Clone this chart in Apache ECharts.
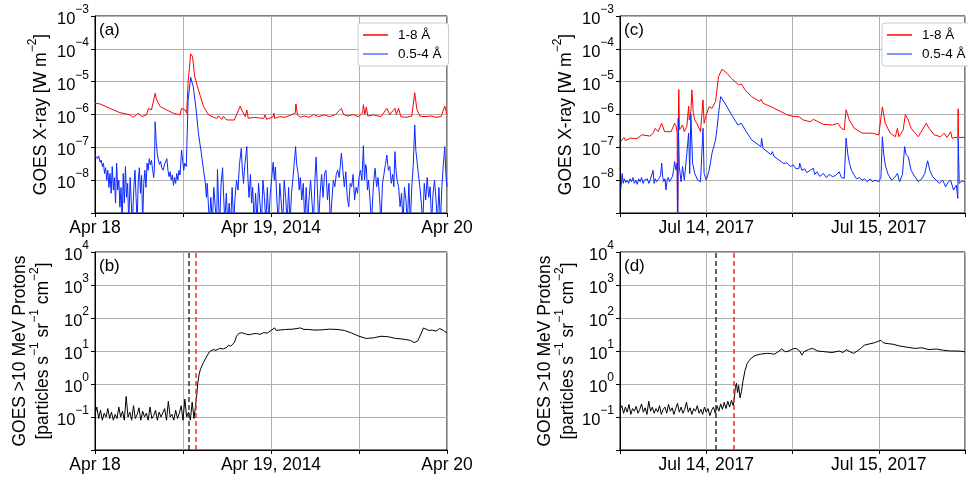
<!DOCTYPE html>
<html>
<head>
<meta charset="utf-8">
<script src="https://cdn.jsdelivr.net/npm/echarts@6/dist/echarts.min.js"></script>
<style>
html, body { margin: 0; padding: 0; background: #fff; }
#main { width: 968px; height: 480px; }
</style>
</head>
<body>
<div id="main"></div>
<script>
// [hours after start of window, flux] ; X-ray in W m^-2, protons in pfu
var aRed = [[0,2.2e-6],[0.7,2.1e-6],[2.0,1.54e-6],[3.4,1.14e-6],[4.8,9.7e-7],[5.2,8.2e-7],[5.9,1.09e-6],[6.4,8.6e-7],[7.0,9.7e-7],[7.3,1.54e-6],[7.7,1.37e-6],[7.9,1.22e-6],[8.2,4.4e-6],[8.4,2.8e-6],[8.9,1.73e-6],[9.8,1.37e-6],[10.0,1.54e-6],[10.7,1.09e-6],[11.6,9.7e-7],[11.8,1.54e-6],[12.3,1.37e-6],[12.5,1.09e-6],[12.7,1.0e-5],[13.05,7.0e-5],[13.3,5.8e-5],[13.6,1.42e-5],[14.1,5.6e-6],[14.8,1.73e-6],[15.5,9.7e-7],[16.2,8.2e-7],[16.6,7.6e-7],[16.8,9.0e-7],[17.3,7.1e-7],[17.5,8.8e-7],[18.0,6.8e-7],[19.0,6.8e-7],[19.8,1.8e-6],[20.0,1.37e-6],[20.5,8.6e-7],[20.7,1.37e-6],[20.9,7.6e-7],[21.6,8.2e-7],[23.0,7.6e-7],[23.2,9.7e-7],[23.4,7.1e-7],[24.3,8.6e-7],[24.4,1.09e-6],[24.5,7.6e-7],[25.2,8.6e-7],[25.9,8.2e-7],[27.3,1.09e-6],[27.4,2.1e-6],[27.6,9.7e-7],[28.0,8.2e-7],[28.5,9.0e-7],[29.2,8.2e-7],[29.8,1.0e-6],[30.5,8.6e-7],[31.2,9.7e-7],[32.0,8.6e-7],[32.8,1.0e-6],[33.6,1.54e-6],[33.9,1.0e-6],[34.5,9.0e-7],[35.2,1.0e-6],[35.9,8.6e-7],[36.5,1.1e-6],[36.6,2.0e-6],[36.8,1.0e-6],[37.0,1.7e-6],[37.2,9.0e-7],[38.0,9.7e-7],[39.0,8.6e-7],[39.8,1.54e-6],[40.2,1.0e-6],[40.9,1.54e-6],[41.1,1.0e-6],[41.4,1.54e-6],[41.7,8.6e-7],[42.5,8.2e-7],[43.2,9.0e-7],[43.6,4.6e-6],[43.9,1.4e-6],[44.3,9.0e-7],[45.0,8.6e-7],[45.8,9.0e-7],[46.5,8.2e-7],[47.2,8.6e-7],[47.7,1.8e-6],[48.0,1.0e-6]];
var aBlue = [[0,5.8e-8],[0.2,6.2e-8],[0.35,4.5e-8],[0.5,5.5e-8],[0.7,3.5e-8],[0.85,4.1e-8],[1.0,2.6e-8],[1.15,3.3e-8],[1.3,1.6e-8],[1.45,2.4e-8],[1.6,1.0e-8],[1.75,2.0e-8],[1.9,6e-9],[2.05,1.6e-8],[2.2,4e-9],[2.35,2.6e-8],[2.5,5e-9],[2.65,1.2e-8],[2.8,2e-9],[2.95,3.3e-8],[3.1,5e-9],[3.25,1.0e-8],[3.4,1.5e-9],[3.55,6e-9],[3.7,5e-10],[3.85,1.6e-8],[4.0,2e-9],[4.15,2.6e-8],[4.3,3e-9],[4.45,8e-9],[4.6,5e-10],[4.8,1.2e-8],[4.95,2e-9],[5.1,5e-10],[5.3,6e-9],[5.45,2e-8],[5.6,3e-9],[5.75,5e-10],[5.9,1e-8],[6.05,2.4e-8],[6.2,4e-9],[6.35,1.4e-8],[6.5,5e-10],[6.65,8e-9],[6.8,2e-8],[6.95,6e-9],[7.1,3.3e-8],[7.25,2e-8],[7.4,4.5e-8],[7.55,2.9e-8],[7.7,4.0e-8],[7.85,2.2e-8],[8.0,1.2e-8],[8.1,2e-8],[8.2,6.0e-7],[8.35,1.5e-7],[8.5,6e-8],[8.65,4.1e-8],[8.8,3.0e-8],[8.95,3.7e-8],[9.1,2.4e-8],[9.3,2.0e-8],[9.45,2.9e-8],[9.6,3.3e-8],[9.8,4.5e-8],[9.95,2.0e-8],[10.1,1.28e-8],[10.25,1.8e-8],[10.4,1.0e-8],[10.55,1.44e-8],[10.7,7e-9],[10.85,1.2e-8],[11.0,8e-9],[11.15,1.6e-8],[11.3,1.0e-8],[11.45,2.0e-8],[11.6,1.44e-8],[11.8,8.3e-8],[11.95,4.1e-8],[12.1,2.0e-8],[12.25,3.3e-8],[12.45,2.6e-8],[12.7,2.8e-6],[13.05,1.35e-5],[13.4,7.0e-6],[13.8,1.37e-6],[14.1,2.7e-7],[14.5,6.6e-8],[14.8,2e-8],[15.0,1.0e-8],[15.2,3e-9],[15.3,8e-9],[15.45,2e-9],[15.6,5e-10],[15.8,3e-9],[16.0,5e-10],[16.2,6e-9],[16.4,1.5e-9],[16.6,5e-10],[16.7,2.1e-8],[16.85,2e-9],[17.0,5e-10],[17.2,8e-9],[17.4,2.4e-8],[17.55,3e-9],[17.7,5e-10],[17.9,4e-9],[18.1,5e-10],[18.3,2e-9],[18.5,5e-10],[18.7,6e-9],[18.9,5e-10],[19.1,3e-9],[19.3,1e-8],[19.5,5e-9],[19.7,3e-8],[19.95,9.3e-8],[20.1,2e-8],[20.25,8e-9],[20.4,2.5e-8],[20.7,1.05e-7],[20.85,1.2e-8],[21.0,3e-9],[21.2,1.5e-8],[21.35,2e-9],[21.5,6e-9],[21.7,5e-10],[21.9,4e-9],[22.1,5e-10],[22.3,8e-9],[22.5,2e-9],[22.7,5e-10],[22.9,1e-8],[23.1,3e-9],[23.3,5e-10],[23.5,6e-9],[23.7,5e-10],[23.9,4e-9],[24.1,1.2e-8],[24.3,3.5e-8],[24.45,1e-8],[24.6,2.5e-8],[24.8,2.5e-9],[25.0,5e-10],[25.2,8e-9],[25.4,2e-9],[25.6,5e-10],[25.8,1e-8],[26.0,3e-9],[26.2,5e-10],[26.4,6e-9],[26.6,5e-10],[26.8,4e-9],[27.0,1.2e-8],[27.2,4e-8],[27.35,1.05e-7],[27.5,3e-8],[27.7,1.6e-8],[27.85,5e-9],[28.0,1.2e-8],[28.2,2.5e-9],[28.4,8e-9],[28.6,5e-10],[28.8,6e-9],[29.0,5e-10],[29.2,3e-9],[29.4,1e-8],[29.6,2e-9],[29.8,5e-10],[30.0,1.2e-8],[30.15,5e-8],[30.3,8e-9],[30.5,5e-10],[30.7,4e-9],[30.9,1.5e-8],[31.1,3e-9],[31.3,1.6e-8],[31.5,2e-8],[31.7,2.5e-9],[31.9,8e-9],[32.1,5e-10],[32.3,2.5e-9],[32.5,1e-8],[32.7,6.3e-9],[32.9,1.5e-8],[33.1,2e-8],[33.3,1.2e-8],[33.6,6.6e-8],[33.8,2e-8],[34.0,6.3e-9],[34.2,1.8e-8],[34.4,3e-9],[34.6,1.56e-9],[34.8,8e-9],[35.0,6.3e-9],[35.2,1.5e-8],[35.4,2.5e-9],[35.6,6e-9],[35.8,4e-9],[36.0,1.2e-8],[36.2,2e-8],[36.4,1.0e-8],[36.6,1.12e-7],[36.75,1.0e-8],[36.9,3e-8],[37.0,2.6e-8],[37.15,5e-9],[37.3,1e-8],[37.5,2.5e-9],[37.7,5e-10],[37.95,6.3e-9],[38.1,1.5e-8],[38.2,2.3e-8],[38.4,6.3e-9],[38.6,1.2e-8],[38.8,3e-9],[39.0,5e-10],[39.2,8e-9],[39.4,1.5e-8],[39.6,3e-8],[39.8,5.8e-8],[40.0,2e-8],[40.2,2.6e-8],[40.4,8e-9],[40.6,1.5e-8],[40.75,6.3e-9],[40.9,7.4e-8],[41.05,2e-8],[41.2,1e-8],[41.4,6.3e-9],[41.6,1.56e-9],[41.8,4e-9],[42.0,5e-10],[42.2,6e-9],[42.4,2.5e-9],[42.6,5e-10],[42.8,8e-9],[43.0,5e-10],[43.2,6.3e-9],[43.4,3e-8],[43.6,4.8e-7],[43.75,8e-8],[43.9,4.1e-8],[44.1,1.5e-8],[44.3,6.3e-9],[44.5,2e-9],[44.7,5e-10],[44.9,8e-9],[45.1,2.5e-9],[45.3,1.2e-8],[45.5,3e-9],[45.7,6.3e-9],[45.9,5e-10],[46.1,4e-9],[46.3,1e-8],[46.5,2.5e-9],[46.7,5e-10],[46.9,6e-9],[47.1,5e-10],[47.3,6.3e-9],[47.5,3e-8],[47.7,1.05e-7],[47.85,1.5e-8],[48.0,6.3e-9]];
var bProtons = [[0,0.12],[0.25,0.2],[0.5,0.09],[0.75,0.16],[1,0.08],[1.25,0.13],[1.5,0.1],[1.75,0.18],[2,0.09],[2.25,0.14],[2.5,0.08],[2.75,0.12],[3,0.09],[3.25,0.2],[3.5,0.1],[3.75,0.15],[4,0.08],[4.25,0.42],[4.5,0.1],[4.75,0.14],[5,0.08],[5.25,0.22],[5.5,0.09],[5.75,0.12],[6,0.19],[6.25,0.08],[6.5,0.15],[6.75,0.1],[7,0.13],[7.25,0.08],[7.5,0.2],[7.75,0.09],[8,0.11],[8.25,0.16],[8.5,0.08],[8.75,0.14],[9,0.1],[9.25,0.09],[9.5,0.18],[9.75,0.08],[10,0.3],[10.25,0.1],[10.5,0.12],[10.75,0.08],[11,0.16],[11.25,0.09],[11.5,0.13],[11.75,0.22],[12,0.08],[12.25,0.35],[12.5,0.1],[12.75,0.14],[13,0.08],[13.25,0.28],[13.5,0.09],[13.75,0.1],[13.85,0.4],[14.0,1.0],[14.2,2.0],[14.4,2.9],[14.6,3.2],[14.8,4.5],[15.2,6.6],[15.6,9.5],[16.1,11],[16.5,10.5],[17,12],[17.5,11.5],[18,13],[18.2,15],[18.5,14],[19,18],[19.3,28],[19.6,34],[20,36],[20.5,33],[21,31],[21.5,33],[22,34],[22.5,32],[23,36],[23.5,35],[24,42],[24.5,50],[24.7,42],[25.5,44],[26,45],[27,46],[28,50],[28.5,45],[29,45],[30,43],[31,44],[32,46],[33,45],[34,42],[35,35],[36,28],[37,24],[38,25],[39,28],[40,27],[41,24],[42,23],[43,21],[43.5,18],[44,20],[44.5,35],[44.8,50],[45.5,42],[46,43],[46.5,40],[47,48],[47.5,42],[48,35]];
var cRed = [[0.1,1.5e-7],[0.55,2.0e-7],[0.77,1.6e-7],[1.45,1.9e-7],[2.36,1.85e-7],[3.05,2.4e-7],[3.27,2.1e-7],[4.2,2.2e-7],[4.6,2.7e-7],[4.9,3.8e-7],[5.3,3.0e-7],[5.8,5.4e-7],[6.2,3.0e-7],[7.1,3.0e-7],[7.6,5.4e-7],[7.8,4.5e-7],[7.95,2.8e-7],[8.02,1e-10],[8.1,3.4e-7],[8.18,5.8e-6],[8.27,3.4e-7],[8.7,4.8e-7],[8.95,3.0e-7],[9.3,4.3e-7],[9.55,1.8e-6],[9.64,6.8e-7],[9.86,1.22e-6],[10.0,5.6e-6],[10.2,1.09e-6],[10.4,6.8e-7],[10.8,4.8e-7],[11.2,3.0e-7],[11.55,2.8e-6],[11.7,5.4e-7],[12.0,9.7e-7],[12.4,1.73e-6],[12.8,1.54e-6],[13.3,2.5e-6],[13.7,1.42e-5],[14.2,2.4e-5],[14.9,1.8e-5],[15.5,1.26e-5],[16.5,8.0e-6],[16.9,8.5e-6],[17.4,5.6e-6],[18.3,3.5e-6],[19.4,2.5e-6],[19.6,2.9e-6],[19.9,2.2e-6],[21.0,1.73e-6],[21.2,1.8e-6],[21.45,1.54e-6],[22.4,1.22e-6],[23.3,9.7e-7],[24.2,8.6e-7],[24.9,8.6e-7],[25.5,6.8e-7],[26.45,6.0e-7],[26.9,7.1e-7],[27.4,6.3e-7],[28.3,5.0e-7],[29.6,4.8e-7],[30.3,5.4e-7],[30.8,3.8e-7],[31.2,3.4e-7],[31.45,1.4e-6],[31.9,6.8e-7],[32.6,3.8e-7],[33.7,2.7e-7],[35.1,2.7e-7],[36.0,2.4e-7],[36.2,2.5e-7],[36.5,1.7e-6],[36.9,5.4e-7],[37.6,2.7e-7],[38.3,2.1e-7],[38.6,3.8e-7],[38.8,2.1e-7],[39.4,3.4e-7],[39.7,1.0e-6],[40.1,6.8e-7],[40.5,3.8e-7],[41.5,2.1e-7],[42.6,5.4e-7],[43.0,3.8e-7],[43.7,2.4e-7],[44.6,2.1e-7],[45.1,2.7e-7],[45.5,2.0e-7],[46.0,3.0e-7],[46.2,1.9e-7],[46.6,2.0e-7],[47.0,2.0e-7],[47.05,1.5e-6],[47.1,2.0e-7],[48,2.0e-7]];
var cBlue = [[0.1,5.0e-9],[0.3,1.6e-8],[0.45,8e-9],[0.6,1.1e-8],[0.8,8.5e-9],[1.0,1.0e-8],[1.2,8e-9],[1.4,1.1e-8],[1.6,9e-9],[1.8,1.2e-8],[2.0,8e-9],[2.2,1.0e-8],[2.4,7.5e-9],[2.6,1.1e-8],[2.8,9e-9],[3.0,1.2e-8],[3.2,8e-9],[3.4,1.0e-8],[3.6,9e-9],[3.8,1.1e-8],[4.0,8e-9],[4.2,1.0e-8],[4.4,9e-9],[4.6,2.0e-8],[4.75,8e-9],[4.9,1.1e-8],[5.1,9e-9],[5.3,1.0e-8],[5.5,1.2e-8],[5.65,1.4e-8],[5.8,3.3e-8],[5.95,1.2e-8],[6.1,9.0e-9],[6.25,1.1e-8],[6.4,5.0e-9],[6.55,1.0e-8],[6.7,1.2e-8],[6.9,9e-9],[7.1,1.0e-8],[7.3,1.3e-8],[7.45,2e-8],[7.6,3.7e-8],[7.8,2.0e-8],[7.95,3.3e-8],[8.02,1e-10],[8.1,7.6e-7],[8.25,2.6e-8],[8.5,9.0e-9],[8.7,2.6e-8],[8.95,1.0e-8],[9.3,6.6e-8],[9.55,2.7e-7],[9.7,1.6e-8],[9.86,1.0e-6],[10.1,3.3e-8],[10.4,1.6e-8],[10.8,1.0e-8],[11.2,9.0e-9],[11.55,3.8e-7],[11.7,1.6e-8],[12.0,1.0e-8],[12.4,2.0e-8],[12.8,6.6e-8],[13.3,1.7e-7],[13.5,3.8e-7],[13.7,1.0e-6],[14.0,3.5e-6],[14.6,2.2e-6],[15.5,1.0e-6],[16.4,4.8e-7],[16.9,5.4e-7],[17.4,3.4e-7],[18.3,1.7e-7],[19.6,1.05e-7],[19.7,1.9e-7],[19.9,9.3e-8],[21.0,6.0e-8],[21.2,7.4e-8],[21.45,5.2e-8],[22.4,3.7e-8],[22.8,3.2e-8],[23.2,3.4e-8],[23.7,2.6e-8],[24.1,2.9e-8],[24.5,2.2e-8],[24.9,2.3e-8],[25.0,3.3e-8],[25.3,2.0e-8],[25.7,2.2e-8],[26.0,1.7e-8],[26.45,2.0e-8],[26.9,2.3e-8],[27.1,1.5e-8],[27.4,1.8e-8],[27.8,1.3e-8],[28.3,1.6e-8],[28.7,1.2e-8],[29.1,1.5e-8],[29.6,1.28e-8],[30.0,1.4e-8],[30.5,1.8e-8],[30.8,1.2e-8],[31.2,1.14e-8],[31.45,1.9e-7],[31.7,6e-8],[31.9,3.5e-8],[32.2,2e-8],[32.6,1.4e-8],[32.9,1.1e-8],[33.3,1.2e-8],[33.7,1.0e-8],[34.0,1.1e-8],[34.4,9e-9],[34.8,1.1e-8],[35.1,9.0e-9],[35.5,1.0e-8],[36.0,9.0e-9],[36.3,1.2e-8],[36.5,2.1e-7],[36.7,6e-8],[36.95,2.6e-8],[37.3,1.5e-8],[37.8,1.0e-8],[38.2,1.2e-8],[38.6,1.6e-8],[38.9,9.0e-9],[39.3,1.5e-8],[39.6,1.05e-7],[39.8,6e-8],[40.1,5.2e-8],[40.5,2.0e-8],[40.9,1.4e-8],[41.5,9.0e-9],[42.0,1.1e-8],[42.4,1.6e-8],[42.8,3.9e-8],[43.1,2e-8],[43.5,1.28e-8],[44.0,1.0e-8],[44.4,8.0e-9],[44.9,1.0e-8],[45.3,6.3e-9],[45.7,9e-9],[46.0,1.0e-8],[46.4,5.0e-9],[46.8,7.0e-9],[47.0,2.8e-9],[47.05,1.9e-7],[47.2,8.0e-9],[47.6,9.5e-9],[48,9.0e-9]];
var dProtons = [[0,0.17],[0.25,0.22],[0.5,0.13],[0.75,0.2],[1,0.14],[1.25,0.24],[1.5,0.12],[1.75,0.18],[2,0.15],[2.25,0.21],[2.5,0.13],[2.75,0.17],[3,0.25],[3.25,0.14],[3.5,0.19],[3.75,0.12],[4,0.3],[4.25,0.15],[4.5,0.2],[4.75,0.13],[5,0.18],[5.25,0.14],[5.5,0.22],[5.75,0.12],[6,0.17],[6.25,0.2],[6.5,0.13],[6.75,0.24],[7,0.15],[7.25,0.19],[7.5,0.12],[7.75,0.18],[8,0.26],[8.25,0.14],[8.5,0.2],[8.75,0.13],[9,0.17],[9.25,0.28],[9.5,0.14],[9.75,0.19],[10,0.12],[10.25,0.18],[10.5,0.15],[10.75,0.22],[11,0.13],[11.25,0.17],[11.5,0.12],[11.75,0.2],[12,0.14],[12.25,0.18],[12.5,0.11],[12.75,0.16],[13,0.2],[13.25,0.13],[13.5,0.22],[13.75,0.15],[14,0.25],[14.25,0.17],[14.5,0.28],[14.75,0.18],[15,0.3],[15.25,0.2],[15.5,0.32],[15.75,0.22],[15.9,0.35],[16.05,0.8],[16.2,1.05],[16.35,0.55],[16.5,0.9],[16.7,0.38],[16.9,0.6],[17.1,1.2],[17.4,2.6],[17.7,4.2],[18.0,5.2],[18.3,6.2],[18.8,7.3],[19.5,8],[20.5,8.5],[21,8.3],[21.5,8.0],[22,9.5],[22.5,11.5],[23,9.5],[23.5,10],[24,11.5],[24.5,12],[25,10],[25.3,7.5],[25.6,9.5],[26.2,11],[26.8,12],[27.5,10],[28.5,9.5],[29.5,9],[30.5,10],[31,9],[31.5,11],[32,9.5],[32.5,8.5],[33,10],[33.5,12],[34,15],[34.5,16],[35.5,18],[36,20],[36.3,21],[36.6,18],[37,17],[38,16],[39,14],[40,13],[41,12],[42,12.5],[43,11],[44,11.5],[45,10.5],[46,10],[47,10],[48,9.5]];

var bEvents = [12.73, 13.77];
var dEvents = [13.27, 15.86];
var tickHoursA = [0, 12, 24, 36, 48];
var tickLabelsA = ['Apr 18', '', 'Apr 19, 2014', '', 'Apr 20'];
var tickHoursC = [0, 12, 24, 36, 48];
var tickLabelsC = ['', 'Jul 14, 2017', '', 'Jul 15, 2017', ''];
var seriesNames = ['1-8 Å', '0.5-4 Å'];

var FONT = '"Liberation Sans", Arial, sans-serif';
var RED = '#ff0000';
var BLUE = '#0a28ff';
var supRich = {
	b: { fontSize: 16.5, fontFamily: FONT, color: '#000', lineHeight: 24, verticalAlign: 'bottom' },
	s: { fontSize: 12, fontFamily: FONT, color: '#000', verticalAlign: 'top' }
};
var nameRich = {
	n: { fontSize: 17.5, fontFamily: FONT, color: '#000', lineHeight: 23, verticalAlign: 'bottom' },
	s: { fontSize: 12, fontFamily: FONT, color: '#000', verticalAlign: 'top' }
};

function xAxis(grid, hours, labels) {
	return {
		type: 'value', gridIndex: grid, min: 0, max: 48, interval: 12,
		axisLine: { lineStyle: { color: '#000' } },
		axisTick: { show: true, length: 4, lineStyle: { color: '#000' } },
		axisLabel: {
			color: '#000', fontSize: 17.5, fontFamily: FONT, margin: 6,
			formatter: function(v) {
				var i = hours.indexOf(Math.round(v));
				return i < 0 ? '' : labels[i];
			}
		},
		splitLine: { show: true, lineStyle: { color: '#b0b0b0', width: 1 } }
	};
}

function yAxis(grid, min, max, name, gap) {
	var hide = Math.round(Math.log10(min));
	return {
		type: 'log', logBase: 10, gridIndex: grid, min: min, max: max, splitNumber: 6,
		name: name, nameLocation: 'middle', nameGap: gap,
		nameTextStyle: { rich: nameRich },
		axisLine: { show: true, lineStyle: { color: '#000' } },
		axisTick: { show: true, length: 4, lineStyle: { color: '#000' } },
		axisLabel: {
			margin: 6, rich: supRich,
			formatter: function(v) {
				var e = Math.round(Math.log10(v));
				if (e === hide) {
					return '';
				}
				return '{b|10}{s|' + (e < 0 ? '−' : '') + Math.abs(e) + '}';
			}
		},
		splitLine: { show: true, lineStyle: { color: '#b0b0b0', width: 1 } }
	};
}

function line(name, grid, data, color) {
	return {
		name: name, type: 'line', xAxisIndex: grid, yAxisIndex: grid,
		data: data, showSymbol: false, symbol: 'none', clip: true,
		lineStyle: { color: color, width: 1 }, itemStyle: { color: color },
		emphasis: { disabled: true }, animation: false
	};
}

function events(hours) {
	return {
		silent: true, symbol: 'none', label: { show: false },
		data: [
			{ xAxis: hours[0], lineStyle: { color: '#333', type: [5, 3], width: 1.5 } },
			{ xAxis: hours[1], lineStyle: { color: '#ff2a2a', type: [5, 3], width: 1.5 } }
		]
	};
}

function legend(left) {
	return {
		left: left, top: 23, orient: 'vertical', icon: 'rect', itemWidth: 25, itemHeight: 1.5, itemGap: 5,
		padding: [5, 7, 5, 5], borderColor: '#ccc', borderWidth: 1, borderRadius: 3, backgroundColor: '#fff',
		textStyle: { fontSize: 13.5, fontFamily: FONT, color: '#000', padding: [0, 0, 0, 5] },
		selectedMode: false,
		data: [
			{ name: seriesNames[0], itemStyle: { color: RED } },
			{ name: seriesNames[1], itemStyle: { color: '#5570ff' } }
		]
	};
}

var xrayName = '{n|GOES X-ray [W m}{s|−2}{n|]}';
var protonName = '{n|GOES >10 MeV Protons}\n{n|[particles s}{s|−1}{n| sr}{s|−1}{n| cm}{s|−2}{n|]}';

var bSeries = line('protons b', 1, bProtons, '#000');
bSeries.markLine = events(bEvents);
var dSeries = line('protons d', 3, dProtons, '#000');
dSeries.markLine = events(dEvents);

var option = {
	backgroundColor: '#fff',
	animation: false,
	grid: [
		{ left: 95, top: 16, width: 352, height: 197, show: true, borderColor: '#000', borderWidth: 1 },
		{ left: 95, top: 252, width: 352, height: 198, show: true, borderColor: '#000', borderWidth: 1 },
		{ left: 620, top: 16, width: 352, height: 197, show: true, borderColor: '#000', borderWidth: 1 },
		{ left: 620, top: 252, width: 352, height: 198, show: true, borderColor: '#000', borderWidth: 1 }
	],
	xAxis: [
		xAxis(0, tickHoursA, tickLabelsA),
		xAxis(1, tickHoursA, tickLabelsA),
		xAxis(2, tickHoursC, tickLabelsC),
		xAxis(3, tickHoursC, tickLabelsC)
	],
	yAxis: [
		yAxis(0, 1e-9, 1e-3, xrayName, 45),
		yAxis(1, 1e-2, 1e4, protonName, 43),
		yAxis(2, 1e-9, 1e-3, xrayName, 45),
		yAxis(3, 1e-2, 1e4, protonName, 43)
	],
	legend: [legend(358), legend(882)],
	graphic: [
		{ type: 'text', left: 99, top: 22, style: { text: '(a)', fontSize: 17, fontFamily: FONT, fill: '#000' } },
		{ type: 'text', left: 99, top: 258, style: { text: '(b)', fontSize: 17, fontFamily: FONT, fill: '#000' } },
		{ type: 'text', left: 624, top: 22, style: { text: '(c)', fontSize: 17, fontFamily: FONT, fill: '#000' } },
		{ type: 'text', left: 624, top: 258, style: { text: '(d)', fontSize: 17, fontFamily: FONT, fill: '#000' } }
	],
	series: [
		line(seriesNames[0], 0, aRed, RED),
		line(seriesNames[1], 0, aBlue, BLUE),
		bSeries,
		line(seriesNames[0], 2, cRed, RED),
		line(seriesNames[1], 2, cBlue, BLUE),
		dSeries
	]
};

var myChart = echarts.init(document.getElementById('main'));
myChart.setOption(option);
</script>
</body>
</html>
